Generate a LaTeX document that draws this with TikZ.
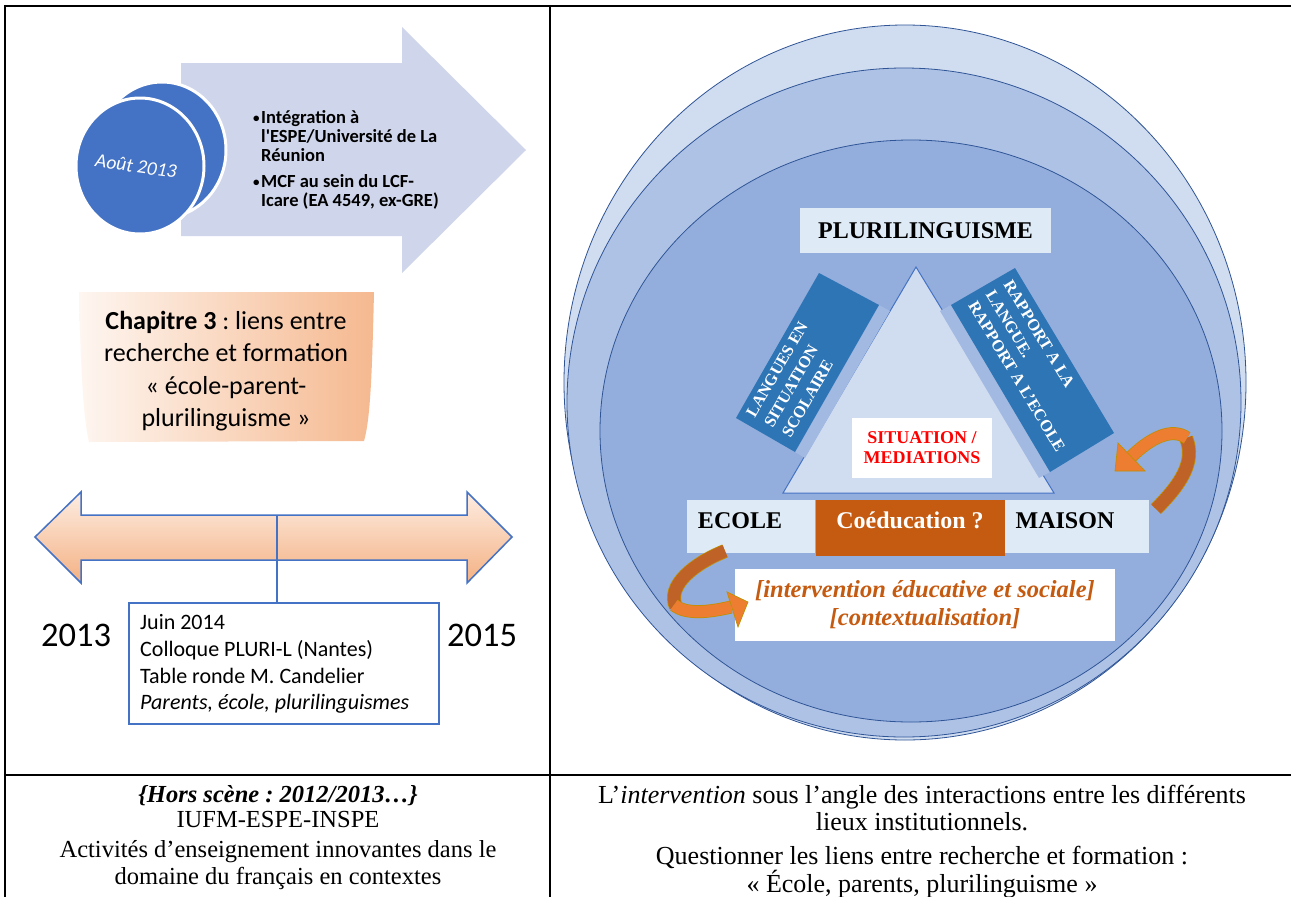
\documentclass[tikz,border=0pt]{standalone}
\usepackage{fontspec}
\setmainfont{Liberation Serif}
\newfontfamily\carl{Carlito}
\frenchspacing
\definecolor{arrowgrey}{HTML}{CFD5EA}
\definecolor{circblue}{HTML}{4472C4}
\definecolor{peach}{HTML}{F4B183}
\definecolor{peachlight}{HTML}{FDEDE2}
\definecolor{ellA}{HTML}{D0DCEF}
\definecolor{ellB}{HTML}{AEC2E6}
\definecolor{ellC}{HTML}{93AEDC}
\definecolor{ellline}{HTML}{2F5597}
\definecolor{tri}{HTML}{D0DCF0}
\definecolor{boxblue}{HTML}{2E75B6}
\definecolor{paleblue}{HTML}{DEEBF7}
\definecolor{rust}{HTML}{C55A11}
\definecolor{orangef}{HTML}{ED7D31}
\definecolor{oranged}{HTML}{BF6228}
\definecolor{goldline}{HTML}{BF9000}
\definecolor{band}{HTML}{A2B9E2}
\begin{document}
\begin{tikzpicture}[x=1pt,y=-1pt,
  tablerule/.style={line width=2.4pt,black},
  bul/.style={font=\carl\bfseries\fontsize{18.5}{20}\selectfont, anchor=base west, inner sep=0pt},
  bulmark/.style={font=\carl\bfseries\fontsize{13}{14}\selectfont, anchor=base west, inner sep=0pt},
  juinline/.style={font=\carl\fontsize{22}{25}\selectfont, anchor=base west, inner sep=0pt},
  yearlbl/.style={font=\carl\fontsize{34.5}{38}\selectfont, inner sep=0pt},
  ellstyle/.style={draw=ellline, line width=0.8pt},
  rottext/.style={font=\bfseries\fontsize{16.5}{20.6}\selectfont, text=white, align=left, inner sep=0pt, anchor=west},
  palebox/.style={fill=paleblue},
  captextL/.style={font=\fontsize{24.5}{28}\selectfont, inner sep=0pt, anchor=base},
  captextR/.style={font=\fontsize{26}{30}\selectfont, inner sep=0pt, anchor=base},
  ribbonedge/.style={goldline, line width=14pt},
]
\useasboundingbox (0,0) rectangle (1291,897);
\fill[white] (0,0) rectangle (1291,897);

%% ---------------- left panel ----------------
\fill[arrowgrey] (181,63) -- (402,63) -- (402,27) -- (526,150) -- (402,273) -- (402,236) -- (181,236) -- cycle;
\draw[white, line width=3pt, fill=circblue] (162,150) ellipse [x radius=64, y radius=68];
\draw[white, line width=3pt, fill=circblue] (140,166) ellipse [x radius=64, y radius=68];
\node[rotate=-8, text=white, font=\carl\itshape\fontsize{19.5}{22}\selectfont] (aout) at (136,166) {Août 2013};

\node[bulmark] (bA) at (253,122) {•};
\node[bul] (tA1) at (261,123) {Intégration à};
\node[bul] (tA2) at (261,142) {l'ESPE/Université de La};
\node[bul] (tA3) at (261,161) {Réunion};
\node[bulmark] (bB) at (253,186) {•};
\node[bul] (tB1) at (261,187) {MCF au sein du LCF-};
\node[bul] (tB2) at (261,206) {Icare (EA 4549, ex-GRE)};

\shade[left color=peachlight!50!white, right color=peach!90!white]
  (79,292) -- (374,292) .. controls (372,380) and (370,420) .. (364,441)
  -- (89,442) .. controls (84,420) and (81,380) .. (79,292) -- cycle;
\node[align=center, font=\carl\fontsize{26}{32.3}\selectfont] (chap) at (226,371)
  {\textbf{Chapitre 3} : liens entre\\recherche et formation\\« école-parent-\\plurilinguisme »};

\shadedraw[top color=peachlight, bottom color=peach, draw=circblue, line width=1.5pt]
  (35,537) -- (81,492) -- (81,515) -- (467,515) -- (467,492) -- (512,537)
  -- (467,583) -- (467,560) -- (81,560) -- (81,583) -- cycle;
\node[draw=circblue, line width=1.5pt, fill=white, minimum width=310pt, minimum height=121pt,
  anchor=north west, inner sep=0pt] (juin) at (128,602) {};
\coordinate (tick) at (277,515);
\draw[circblue, line width=1.5pt] (tick) -- (tick |- juin.north);
\node[juinline] (j1) at (140,629) {Juin 2014};
\node[juinline] (j2) at (140,656) {Colloque PLURI-L (Nantes)};
\node[juinline] (j3) at (140,683) {Table ronde M. Candelier};
\node[juinline] (j4) at (140,709) {\itshape Parents, école, plurilinguismes};
\node[yearlbl] (y13) at (76,635) {2013};
\node[yearlbl] (y15) at (482,635) {2015};

%% ---------------- right panel ----------------
\filldraw[ellstyle, fill=ellA] (905,382.5) ellipse [x radius=341, y radius=357.5];
\filldraw[ellstyle, fill=ellB] (904,402.5) ellipse [x radius=337, y radius=334.5];
\filldraw[ellstyle, fill=ellC] (911,431) ellipse [x radius=311, y radius=291];

\draw[fill=tri, draw=circblue, line width=1pt] (916,267) -- (1054,493) -- (783,493) -- cycle;
\fill[band] (879,305) -- (890,311) -- (805,458) -- (795,452) -- cycle;
\fill[band] (951,305) -- (940,311) -- (1039,478) -- (1050,472) -- cycle;
\fill[boxblue] (819,273) -- (879,305) -- (795,452) -- (736,418) -- cycle;
\fill[boxblue] (951,305) -- (1015,268) -- (1114,433) -- (1050,472) -- cycle;
\node[rottext, rotate=60] (langues) at (768,426) {LANGUES EN\\SITUATION\\SCOLAIRE};
\node[rottext, rotate=-59] (rapport) at (990,292) {RAPPORT A LA\\LANGUE.\\RAPPORT A L'ECOLE};

\node[palebox, minimum width=251pt, minimum height=45pt, inner sep=0pt,
  font=\bfseries\fontsize{24}{28}\selectfont] (pluri) at (925.5,230.5) {PLURILINGUISME};
\node[fill=white, minimum width=140pt, minimum height=60pt, inner sep=0pt, align=center,
  text=red, font=\bfseries\fontsize{18}{20}\selectfont] (situ) at (922,448) {SITUATION /\\MEDIATIONS};

\fill[paleblue] (687,500) rectangle (815,553);
\fill[rust] (816,500) rectangle (1005,556);
\fill[paleblue] (1005,500) rectangle (1149,553);
\node[font=\bfseries\fontsize{24}{28}\selectfont, inner sep=0pt] (ecole) at (740,521) {ECOLE};
\node[font=\bfseries\fontsize{24}{28}\selectfont, text=white, inner sep=0pt] (coed) at (910,520) {Coéducation ?};
\node[font=\bfseries\fontsize{24}{28}\selectfont, inner sep=0pt] (maison) at (1065,521) {MAISON};

\node[fill=white, minimum width=380pt, minimum height=72pt, inner sep=0pt, align=center,
  text=rust, font=\bfseries\itshape\fontsize{24.5}{28}\selectfont] (interv) at (925,605)
  {{[intervention éducative et sociale]}\\{[contextualisation]}};

% right curved arrow
\draw[ribbonedge] (1156,509) .. controls (1180,485) and (1196,462) .. (1186,438);
\draw[oranged, line width=12.5pt] (1156,509) .. controls (1180,485) and (1196,462) .. (1186,438);
\draw[goldline, line width=13pt] (1187,438) .. controls (1172,427) and (1150,438) .. (1131,457);
\draw[orangef, line width=11.5pt] (1187,438) .. controls (1172,427) and (1150,438) .. (1131,457);
\filldraw[fill=orangef, draw=goldline, line width=0.7pt] (1115,471) -- (1118,443) -- (1145,471) -- cycle;

% left curved arrow
\draw[ribbonedge] (725,551) .. controls (695,563) and (666,585) .. (676,607);
\draw[oranged, line width=12.5pt] (725,551) .. controls (695,563) and (666,585) .. (676,607);
\draw[goldline, line width=13pt] (674,605) .. controls (686,615) and (710,612) .. (731,607);
\draw[orangef, line width=11.5pt] (674,605) .. controls (686,615) and (710,612) .. (731,607);
\filldraw[fill=orangef, draw=goldline, line width=0.7pt] (727,592) -- (748,602) -- (738,627) -- cycle;

%% ---------------- table rules ----------------
\draw[tablerule] (3.8,6) -- (1291,6);
\draw[tablerule] (5,4.8) -- (5,897);
\draw[tablerule] (550,4.8) -- (550,897);
\draw[tablerule] (3.8,775) -- (1291,775);

%% ---------------- captions ----------------
\node[captextL, font=\bfseries\itshape\fontsize{24.5}{28}\selectfont] (hs) at (278,802) {\{Hors scène : 2012/2013…\}};
\node[captextL] (iufm) at (278,827) {IUFM-ESPE-INSPE};
\node[captextL] (act1) at (278,857) {Activités d’enseignement innovantes dans le};
\node[captextL] (act2) at (278,884) {domaine du français en contextes};

\node[captextR] (r1) at (922,803) {L’\textit{intervention} sous l’angle des interactions entre les différents};
\node[captextR] (r2) at (922,830) {lieux institutionnels.};
\node[captextR] (r3) at (922,864) {Questionner les liens entre recherche et formation :};
\node[captextR] (r4) at (922,892) {« École, parents, plurilinguisme »};
\end{tikzpicture}
\end{document}
